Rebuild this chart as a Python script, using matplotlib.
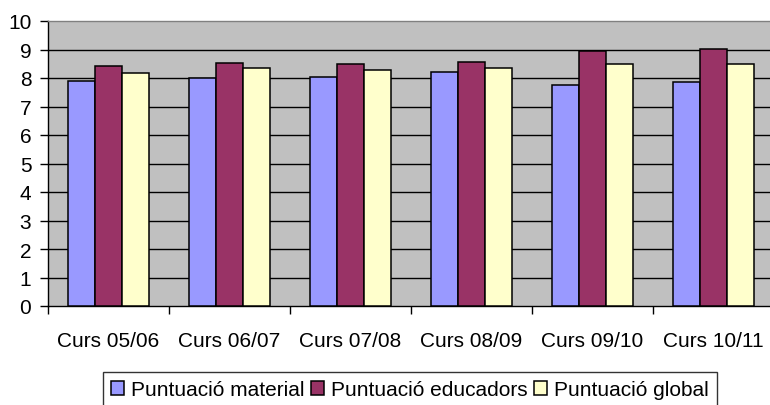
import matplotlib
matplotlib.use("Agg")
import matplotlib.pyplot as plt
import numpy as np

categories = ["Curs 05/06", "Curs 06/07", "Curs 07/08", "Curs 08/09", "Curs 09/10", "Curs 10/11"]
material = [7.90, 8.00, 8.05, 8.22, 7.77, 7.86]
educadors = [8.43, 8.53, 8.48, 8.57, 8.94, 9.03]
global_ = [8.18, 8.35, 8.27, 8.34, 8.48, 8.48]
series_names = ["Puntuació material", "Puntuació educadors", "Puntuació global"]
colors = ["#9999FF", "#993366", "#FFFFCC"]
yticks = list(range(0, 11))

plt.rcParams['font.family'] = ['Liberation Sans', 'DejaVu Sans']
fs = 15

W, H = 770, 406
fig = plt.figure(figsize=(W/100, H/100), dpi=100)
left, right, top, bottom = 48, 774, 22, 307
ax = fig.add_axes([left/W, 1-bottom/H, (right-left)/W, (bottom-top)/H])
ax.set_facecolor("#C0C0C0")

x = np.arange(len(categories))
bw = 0.223
for i, (vals, name, c) in enumerate(zip([material, educadors, global_], series_names, colors)):
    ax.bar(x + (i-1)*bw, vals, width=bw, color=c, edgecolor="black", linewidth=1.1,
           label=name, zorder=3)

ax.set_xlim(-0.5, len(categories)-0.5)
ax.set_ylim(0, 10)
ax.set_yticks(yticks)
ax.set_yticklabels([str(t) for t in yticks], fontsize=fs)
for t in yticks[1:-1]:
    ax.axhline(t, color="black", linewidth=1.0, zorder=1)

ax.set_xticks(np.arange(len(categories)+1) - 0.5)
ax.set_xticklabels([])
ax.set_xticks(x, minor=True)
ax.set_xticklabels(categories, minor=True, fontsize=fs)
ax.tick_params(axis='x', which='minor', length=0, pad=18)
ax.tick_params(axis='x', which='major', length=6, width=1, direction='out', color='black')
ax.tick_params(axis='y', length=6, width=1, direction='out', pad=6)

ax.spines['left'].set_color('black')
ax.spines['bottom'].set_color('black')
ax.spines['top'].set_color('#808080')
ax.spines['right'].set_visible(False)
for s in ['left', 'bottom', 'top']:
    ax.spines[s].set_linewidth(1.0)

leg = fig.legend(loc='upper center', bbox_to_anchor=(410/W, 1-373/H), ncol=3,
                 fontsize=fs, frameon=True, fancybox=False, edgecolor='black',
                 handlelength=0.63, handleheight=0.63, handletextpad=0.34,
                 columnspacing=0.3, borderpad=0.4, borderaxespad=0)
leg.get_frame().set_linewidth(1.0)

fig.savefig("out.png", dpi=100)
